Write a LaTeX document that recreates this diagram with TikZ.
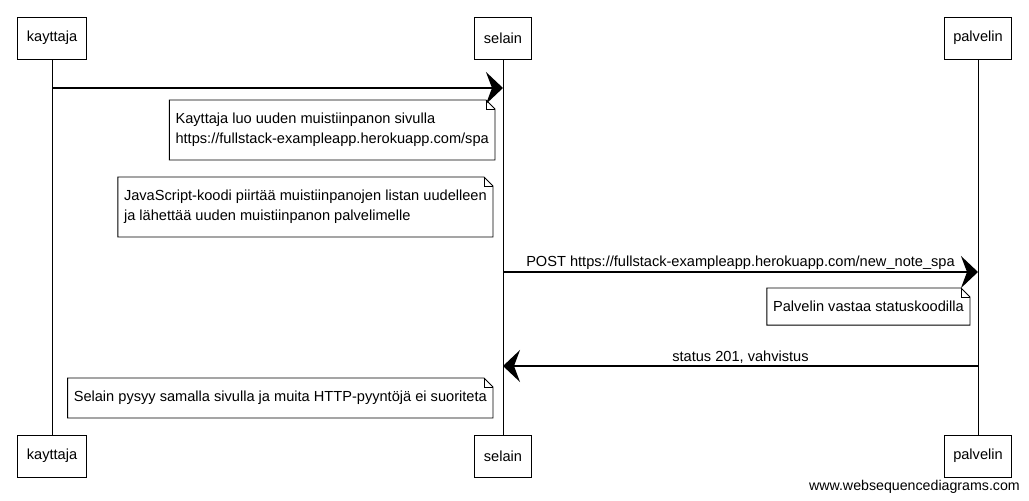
\documentclass[tikz,border=0pt]{standalone}
\usepackage{fontspec}
\setmainfont{Liberation Sans}
\usetikzlibrary{arrows.meta, positioning}
\tikzstyle{actor} = [rectangle, draw, line width=0.9pt,
    inner xsep=9pt, minimum height=42pt, font=\fontsize{14.6}{17}\selectfont]
\tikzstyle{note} = [rectangle, inner xsep=6pt, inner ysep=13pt,
    align=left, font=\fontsize{14.6}{20}\selectfont]
\tikzstyle{lifeline} = [draw, line width=0.7pt]
\tikzstyle{msg} = [draw, line width=1.3pt,
    -{Stealth[length=17pt, width=32pt, inset=6pt]}]
\tikzstyle{msglabel} = [above, inner sep=2pt, font=\fontsize{14.6}{17}\selectfont]

\begin{document}
\begin{tikzpicture}[x=1pt, y=-1pt]
            \useasboundingbox (0,0) rectangle (1029,501);
            % Place nodes
            \node [actor] (kay1) at (52,38) {kayttaja};
            \node [actor] (sel1) at (503,38) {selain};
            \node [actor] (pal1) at (978,38) {palvelin};
            \node [actor, below of=kay1, node distance=418pt] (kay2) {kayttaja};
            \node [actor, below of=sel1, node distance=418pt] (sel2) {selain};
            \node [actor, below of=pal1, node distance=418pt] (pal2) {palvelin};

            \node [note, anchor=north east] (n1) at (495,100) {Kayttaja luo uuden muistiinpanon sivulla\\https://fullstack-exampleapp.herokuapp.com/spa};
            \node [note, anchor=north east] (n2) at (493,177) {JavaScript-koodi piirtää muistiinpanojen listan uudelleen\\ja lähettää uuden muistiinpanon palvelimelle};
            \node [note, anchor=north east] (n3) at (970,288) {Palvelin vastaa statuskoodilla};
            \node [note, anchor=north east] (n4) at (493,378) {Selain pysyy samalla sivulla ja muita HTTP-pyyntöjä ei suoriteta};

            \node [anchor=base east, inner sep=0pt, font=\fontsize{14.2}{17}\selectfont] (wsd) at (1020,490) {www.websequencediagrams.com};

            % Draw notes
            \foreach \n in {n1,n2,n3,n4} {
                \draw [line width=0.9pt] (\n.north west) -- ([xshift=-9pt]\n.north east) -- ([yshift=-9pt]\n.north east) -- (\n.south east) -- (\n.south west) -- cycle;
                \draw [line width=0.6pt] ([xshift=-9pt]\n.north east) |- ([yshift=-9pt]\n.north east);
            }

            % Draw edges
            \path [lifeline] (kay1) -- (kay2);
            \path [lifeline] (sel1) -- (sel2);
            \path [lifeline] (pal1) -- (pal2);

            \path [msg] (kay1 |- 0,88) -- (sel1 |- 0,88);
            \path [msg] (sel1 |- 0,272) -- node [msglabel] {POST https://fullstack-exampleapp.herokuapp.com/new\_note\_spa} (pal1 |- 0,272);
            \path [msg] (pal1 |- 0,366) -- node [msglabel] {status 201, vahvistus} (sel1 |- 0,366);

        \end{tikzpicture}
\end{document}
